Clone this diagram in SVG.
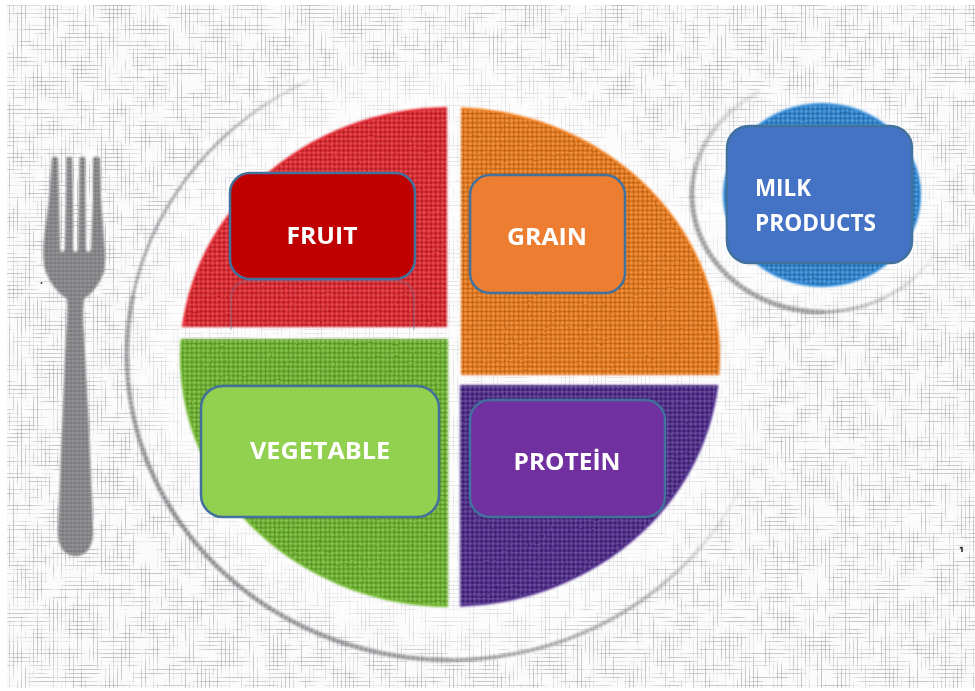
<svg xmlns="http://www.w3.org/2000/svg" width="975" height="691" viewBox="0 0 975 691">
<style>
.box{stroke:#41719c;stroke-width:2.5}
.lbl{font-family:"Open Sans","Noto Sans","Liberation Sans",sans-serif;font-weight:700;font-size:23px;fill:#fff}
.ring{fill:none;stroke-dasharray:4 .8}
</style>
<defs>
<filter id="threadsH" x="0" y="0" width="100%" height="100%" color-interpolation-filters="sRGB">
<feTurbulence type="fractalNoise" baseFrequency="0.03 0.12" numOctaves="3" seed="4"/>
<feColorMatrix type="matrix" values="0 0 0 0 0 0 0 0 0 0 0 0 0 0 0 4 0 0 0 -1.600" result="m"/>
<feComposite in="SourceGraphic" in2="m" operator="in"/>
<feGaussianBlur stdDeviation="0.6"/>
</filter>
<filter id="threadsV" x="0" y="0" width="100%" height="100%" color-interpolation-filters="sRGB">
<feTurbulence type="fractalNoise" baseFrequency="0.12 0.03" numOctaves="3" seed="12"/>
<feColorMatrix type="matrix" values="0 0 0 0 0 0 0 0 0 0 0 0 0 0 0 4 0 0 0 -1.600" result="m"/>
<feComposite in="SourceGraphic" in2="m" operator="in"/>
<feGaussianBlur stdDeviation="0.6"/>
</filter>
<filter id="rough" x="-3%" y="-3%" width="106%" height="106%" color-interpolation-filters="sRGB">
<feTurbulence type="fractalNoise" baseFrequency="0.12" numOctaves="2" seed="7" result="n"/>
<feDisplacementMap in="SourceGraphic" in2="n" scale="2" xChannelSelector="R" yChannelSelector="G"/>
<feGaussianBlur stdDeviation="0.5"/>
</filter>
<filter id="soft" x="-5%" y="-5%" width="110%" height="110%"><feGaussianBlur stdDeviation="0.8"/></filter>
<filter id="soft2" x="-5%" y="-5%" width="110%" height="110%"><feGaussianBlur stdDeviation="1.200"/></filter>
<pattern id="gridH" width="4" height="4" patternUnits="userSpaceOnUse"><rect y="1" width="4" height="1" fill="#a6a6ac"/></pattern>
<pattern id="gridV" width="4" height="4" patternUnits="userSpaceOnUse"><rect x="1" width="1" height="4" fill="#a6a6ac"/></pattern>
<pattern id="bump" width="4.600" height="4.600" patternUnits="userSpaceOnUse">
<path d="M0 .8H4.600M.8 0V4.600" stroke="#fff" stroke-opacity=".2" stroke-width="1.100"/>
<path d="M0 3.400H4.600M3.400 0V4.600" stroke="#000" stroke-opacity=".2" stroke-width="1.100"/>
</pattern>
<pattern id="lightweave" width="4" height="4" patternUnits="userSpaceOnUse">
<path d="M0 1H4M1 0V4" stroke="#fff" stroke-opacity=".14" stroke-width="1"/>
<path d="M0 3H4" stroke="#444" stroke-opacity=".14" stroke-width="1"/>
</pattern>
<linearGradient id="rimA" gradientUnits="userSpaceOnUse" x1="310" y1="80" x2="133" y2="296">
<stop offset="0" stop-color="#a5a5a8" stop-opacity=".25"/><stop offset=".35" stop-color="#a0a0a3"/><stop offset="1" stop-color="#949497"/>
</linearGradient>
<linearGradient id="rimB" gradientUnits="userSpaceOnUse" x1="133" y1="296" x2="450" y2="660">
<stop offset="0" stop-color="#949497"/><stop offset=".4" stop-color="#828285"/><stop offset="1" stop-color="#8f8f92"/>
</linearGradient>
<linearGradient id="rimC" gradientUnits="userSpaceOnUse" x1="450" y1="660" x2="740" y2="489">
<stop offset="0" stop-color="#8f8f92"/><stop offset=".6" stop-color="#a8a8ab"/><stop offset="1" stop-color="#b5b5b8" stop-opacity=".1"/>
</linearGradient>
<linearGradient id="bowlA" gradientUnits="userSpaceOnUse" x1="760" y1="92" x2="692" y2="195">
<stop offset="0" stop-color="#aaa" stop-opacity=".25"/><stop offset="1" stop-color="#949497"/>
</linearGradient>
<linearGradient id="bowlC" gradientUnits="userSpaceOnUse" x1="822" y1="312" x2="935" y2="253">
<stop offset="0" stop-color="#949497"/><stop offset="1" stop-color="#aaa" stop-opacity=".1"/>
</linearGradient>
<radialGradient id="plateGlow" cx=".5" cy=".5" r=".5">
<stop offset=".85" stop-color="#fff" stop-opacity=".55"/><stop offset="1" stop-color="#fff" stop-opacity=".15"/>
</radialGradient>
<clipPath id="qFruit"><rect x="170" y="95" width="277" height="232"/></clipPath>
<clipPath id="qGrain"><rect x="461" y="95" width="270" height="280"/></clipPath>
<clipPath id="qVeg"><rect x="170" y="339" width="278" height="280"/></clipPath>
<clipPath id="qProt"><rect x="460" y="385" width="270" height="235"/></clipPath>
<clipPath id="qMirror"><rect x="225" y="279" width="195" height="51"/></clipPath>
<path id="forkShape" d="M52 158Q55 155 58 158L59 200L60 250Q62 254 65 250L66 200L66.500 158Q69 155 72 158L73 200L73 250Q75 254 78 250L79 200L79.500 158Q82 155 85 158L85.500 200L86 250Q88 254 91 250L93 200L93 158Q96 155 100 158L101 200L104 240Q106 262 104 272Q98 289 84 299Q82 315 84 335L89 430L93 530Q93 555 76 556Q58 555 58 532L62 430L66 335Q68 315 67 299Q52 289 46 272Q42 262 44 240L49 200Z"/>
</defs>

<rect width="975" height="691" fill="#fff"/>
<rect id="cloth" x="7" y="5" width="968" height="683" fill="#fbfbfc"/>
<rect id="threads-h" x="7" y="5" width="968" height="683" fill="url(#gridH)" filter="url(#threadsH)" opacity=".6"/>
<rect id="threads-v" x="7" y="5" width="968" height="683" fill="url(#gridV)" filter="url(#threadsV)" opacity=".6"/>
<ellipse id="plate-base" cx="450" cy="355" rx="322" ry="304" fill="url(#plateGlow)"/>
<ellipse id="bowl-base" cx="822" cy="199" rx="128" ry="112" fill="url(#plateGlow)"/>

<g id="plate-rim" filter="url(#soft)">
<path class="ring" d="M310 80A323 305 0 0 0 133 296" stroke="url(#rimA)" stroke-width="3"/>
<path class="ring" d="M133 296A323 305 0 0 0 450 660" stroke="url(#rimB)" stroke-width="4.500"/>
<path class="ring" d="M450 660A323 305 0 0 0 740 489" stroke="url(#rimC)" stroke-width="3.500"/>
</g>
<g id="bowl-rim" filter="url(#soft)">
<path class="ring" d="M760 92A130 117 0 0 0 692 195" stroke="url(#bowlA)" stroke-width="4.500"/>
<path class="ring" d="M692 195A130 117 0 0 0 822 312" stroke="#949497" stroke-width="5"/>
<path class="ring" d="M822 312A130 117 0 0 0 935 253" stroke="url(#bowlC)" stroke-width="3.500"/>
</g>
<g id="fork">
<use href="#forkShape" fill="#808083" filter="url(#soft2)"/>
<use href="#forkShape" fill="url(#lightweave)"/>
</g>

<g id="plate-sections" filter="url(#soft)">
<g clip-path="url(#qFruit)"><ellipse cx="450" cy="357" rx="270" ry="250" fill="#e4232b"/></g>
<g clip-path="url(#qGrain)"><ellipse cx="450" cy="357" rx="270" ry="250" fill="#ef7a17"/></g>
<g clip-path="url(#qVeg)"><ellipse cx="450" cy="357" rx="270" ry="250" fill="#6db72c"/></g>
<g clip-path="url(#qProt)"><ellipse cx="450" cy="357" rx="270" ry="250" fill="#4b288a"/></g>
</g>
<g id="plate-texture">
<g clip-path="url(#qFruit)"><ellipse cx="450" cy="357" rx="268" ry="248" fill="url(#bump)" filter="url(#rough)"/></g>
<g clip-path="url(#qGrain)"><ellipse cx="450" cy="357" rx="268" ry="248" fill="url(#bump)" filter="url(#rough)"/></g>
<g clip-path="url(#qVeg)"><ellipse cx="450" cy="357" rx="268" ry="248" fill="url(#bump)" filter="url(#rough)"/></g>
<g clip-path="url(#qProt)"><ellipse cx="450" cy="357" rx="268" ry="248" fill="url(#bump)" filter="url(#rough)"/></g>
</g>
<g id="bowl-fill">
<ellipse cx="822" cy="195" rx="99" ry="92" fill="#2c86d6" filter="url(#soft)"/>
<ellipse cx="822" cy="195" rx="97" ry="90" fill="url(#bump)" filter="url(#rough)"/>
</g>

<g id="marks">
<circle cx="41.500" cy="283" r="0.900" fill="#333"/>
<path d="M959.800 547.800L962 547.600V552" fill="none" stroke="#222" stroke-width="1.500"/>
</g>

<g id="fruit-reflection" clip-path="url(#qMirror)" opacity=".3">
<path d="M231 330V300Q231 281 250 281H395Q414 281 414 300V330" fill="none" stroke="#5b7fa5" stroke-width="2"/>
</g>

<g id="fruit">
<rect class="box" x="230" y="173" width="185" height="106" rx="20" fill="#c00000"/>
<text class="lbl" x="322" y="244" text-anchor="middle" textLength="71" lengthAdjust="spacingAndGlyphs">FRUIT</text>
</g>
<g id="grain">
<rect class="box" x="470" y="175" width="155" height="118" rx="20" fill="#ed7d31"/>
<text class="lbl" x="547" y="245" text-anchor="middle" textLength="80" lengthAdjust="spacingAndGlyphs">GRAIN</text>
</g>
<g id="vegetable">
<rect class="box" x="201" y="386" width="238" height="131" rx="22" fill="#92d050"/>
<text class="lbl" x="320" y="459" text-anchor="middle" textLength="140" lengthAdjust="spacingAndGlyphs">VEGETABLE</text>
</g>
<g id="protein">
<rect class="box" x="470" y="400" width="195" height="117" rx="20" fill="#7030a0"/>
<text class="lbl" x="567" y="470" text-anchor="middle" textLength="107" lengthAdjust="spacingAndGlyphs">PROTEİN</text>
</g>
<g id="milk-products">
<rect class="box" x="727" y="126" width="185" height="137" rx="22" fill="#4472c4"/>
<text class="lbl" x="755" y="196" textLength="56" lengthAdjust="spacingAndGlyphs">MILK</text>
<text class="lbl" x="755" y="231" textLength="121" lengthAdjust="spacingAndGlyphs">PRODUCTS</text>
</g>
</svg>
